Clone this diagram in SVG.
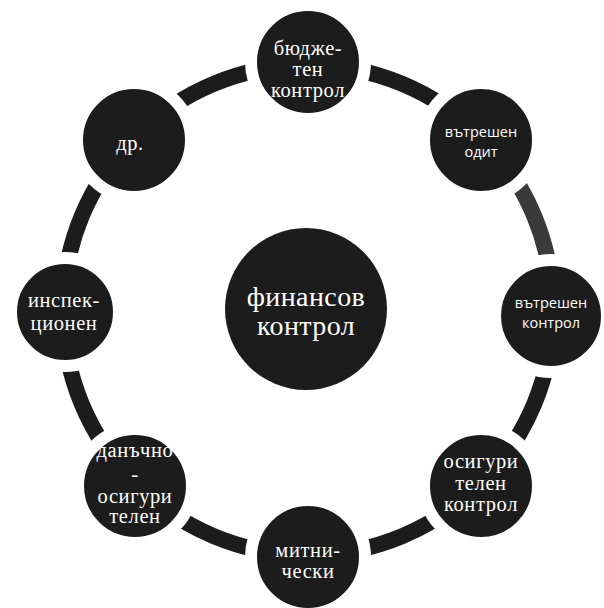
<svg xmlns="http://www.w3.org/2000/svg" width="604" height="608" viewBox="0 0 604 608">
  <style>
    .ring { fill: none; stroke: #1c1c1c; stroke-width: 16; }
    .ring.light { stroke: #3a3a3a; }
    .node { fill: #1c1c1c; stroke: #ffffff; stroke-width: 12; }
    .hub { fill: #1c1c1c; }
    .serif { font-family: "Liberation Serif", "Times New Roman", serif; fill: #ffffff; text-anchor: middle; font-size: 20.5px; letter-spacing: 0.6px; }
    .sans { font-family: "Open Sans", "Noto Sans", sans-serif; fill: #ffffff; text-anchor: middle; font-size: 14.5px; }
    .big { font-size: 28px; letter-spacing: 0.4px; }
  </style>
  <rect width="604" height="608" fill="#ffffff"/>

  <!-- ring segments between neighbouring nodes (centre 308,310, radius 245) -->
  <g id="connectors">
    <path class="ring" d="M308,65 A245,245 0 0 1 481.2,136.8"/>
    <path class="ring light" d="M481.2,136.8 A245,245 0 0 1 553,310"/>
    <path class="ring" d="M553,310 A245,245 0 0 1 481.2,483.2"/>
    <path class="ring" d="M481.2,483.2 A245,245 0 0 1 308,555"/>
    <path class="ring" d="M308,555 A245,245 0 0 1 134.8,483.2"/>
    <path class="ring" d="M134.8,483.2 A245,245 0 0 1 63,310"/>
    <path class="ring" d="M63,310 A245,245 0 0 1 134.8,136.8"/>
    <path class="ring" d="M134.8,136.8 A245,245 0 0 1 308,65"/>
  </g>

  <g id="hub">
    <circle class="hub" cx="306" cy="309" r="81"/>
    <text class="serif big" x="306" y="306">финансов</text>
    <text class="serif big" x="306" y="335">контрол</text>
  </g>

  <g id="node-budget">
    <circle class="node" cx="308" cy="62" r="57"/>
    <text class="serif" x="308" y="55">бюдже-</text>
    <text class="serif" x="308" y="76">тен</text>
    <text class="serif" x="308" y="97">контрол</text>
  </g>

  <g id="node-audit">
    <circle class="node" cx="481" cy="140" r="57"/>
    <text class="sans" x="481" y="137">вътрешен</text>
    <text class="sans" x="481" y="157">одит</text>
  </g>

  <g id="node-internal">
    <circle class="node" cx="551" cy="316" r="56"/>
    <text class="sans" x="551" y="308">вътрешен</text>
    <text class="sans" x="551" y="328">контрол</text>
  </g>

  <g id="node-insurance">
    <circle class="node" cx="481" cy="486" r="57"/>
    <text class="serif" x="481" y="468">осигури</text>
    <text class="serif" x="481" y="490">телен</text>
    <text class="serif" x="481" y="511">контрол</text>
  </g>

  <g id="node-customs">
    <circle class="node" cx="308" cy="557" r="57"/>
    <text class="serif" x="308" y="557">митни-</text>
    <text class="serif" x="308" y="578">чески</text>
  </g>

  <g id="node-tax">
    <circle class="node" cx="135" cy="486" r="57"/>
    <text class="serif" x="135" y="457">данъчно</text>
    <text class="serif" x="135" y="481">-</text>
    <text class="serif" x="135" y="503">осигури</text>
    <text class="serif" x="135" y="523">телен</text>
  </g>

  <g id="node-inspection">
    <circle class="node" cx="65" cy="312" r="54"/>
    <text class="serif" x="64" y="307">инспек-</text>
    <text class="serif" x="64" y="330">ционен</text>
  </g>

  <g id="node-other">
    <circle class="node" cx="134" cy="140" r="57"/>
    <text class="serif" x="130" y="150">др.</text>
  </g>
</svg>
